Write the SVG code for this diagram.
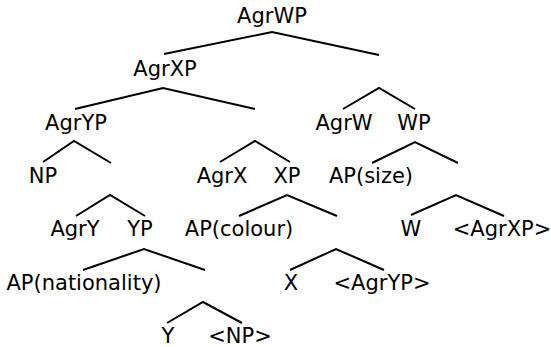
<svg xmlns="http://www.w3.org/2000/svg" width="551" height="347" viewBox="0 0 551 347">
<style>
.e{fill:none;stroke:#000;stroke-width:2;stroke-linejoin:miter}
text{font-family:"DejaVu Sans",sans-serif;font-size:21px;fill:#000;text-anchor:middle}
</style>
<rect width="551" height="347" fill="#fff"/>
<g id="connectors">
<polyline class="e" points="164,54 272,32 379,55"/>
<polyline class="e" points="75,109 163,88 255,109"/>
<polyline class="e" points="343,109 379,88 415,109"/>
<polyline class="e" points="43,162 74,141 111,163"/>
<polyline class="e" points="220,162 255,141 290,162"/>
<polyline class="e" points="372,163 415,142 458,163"/>
<polyline class="e" points="76,216 110,195 145,216"/>
<polyline class="e" points="239,216 287,195 337,216"/>
<polyline class="e" points="411,215 456,195 504,216"/>
<polyline class="e" points="83,270 144,249 205,270"/>
<polyline class="e" points="290,270 336,249 384,270"/>
<polyline class="e" points="167,323 203,302 242,323"/>
</g>
<g id="AgrWP"><text x="272" y="23">AgrWP</text></g>
<g id="AgrXP"><text x="165" y="76">AgrXP</text></g>
<g id="AgrYP"><text x="76" y="130">AgrYP</text></g>
<g id="AgrW"><text x="344" y="130">AgrW</text></g>
<g id="WP"><text x="414" y="130">WP</text></g>
<g id="NP"><text x="43" y="183">NP</text></g>
<g id="AgrX"><text x="222" y="183">AgrX</text></g>
<g id="XP"><text x="287" y="183">XP</text></g>
<g id="APsize"><text x="371" y="183">AP(size)</text></g>
<g id="AgrY"><text x="75" y="236">AgrY</text></g>
<g id="YP"><text x="140" y="236">YP</text></g>
<g id="APcolour"><text x="239" y="236">AP(colour)</text></g>
<g id="W"><text x="411" y="236">W</text></g>
<g id="AgrXPtrace"><text x="502" y="236">&lt;AgrXP&gt;</text></g>
<g id="APnationality"><text x="84" y="290">AP(nationality)</text></g>
<g id="X"><text x="291" y="290">X</text></g>
<g id="AgrYPtrace"><text x="382" y="290">&lt;AgrYP&gt;</text></g>
<g id="Y"><text x="168" y="343">Y</text></g>
<g id="NPtrace"><text x="240" y="343">&lt;NP&gt;</text></g>
</svg>
